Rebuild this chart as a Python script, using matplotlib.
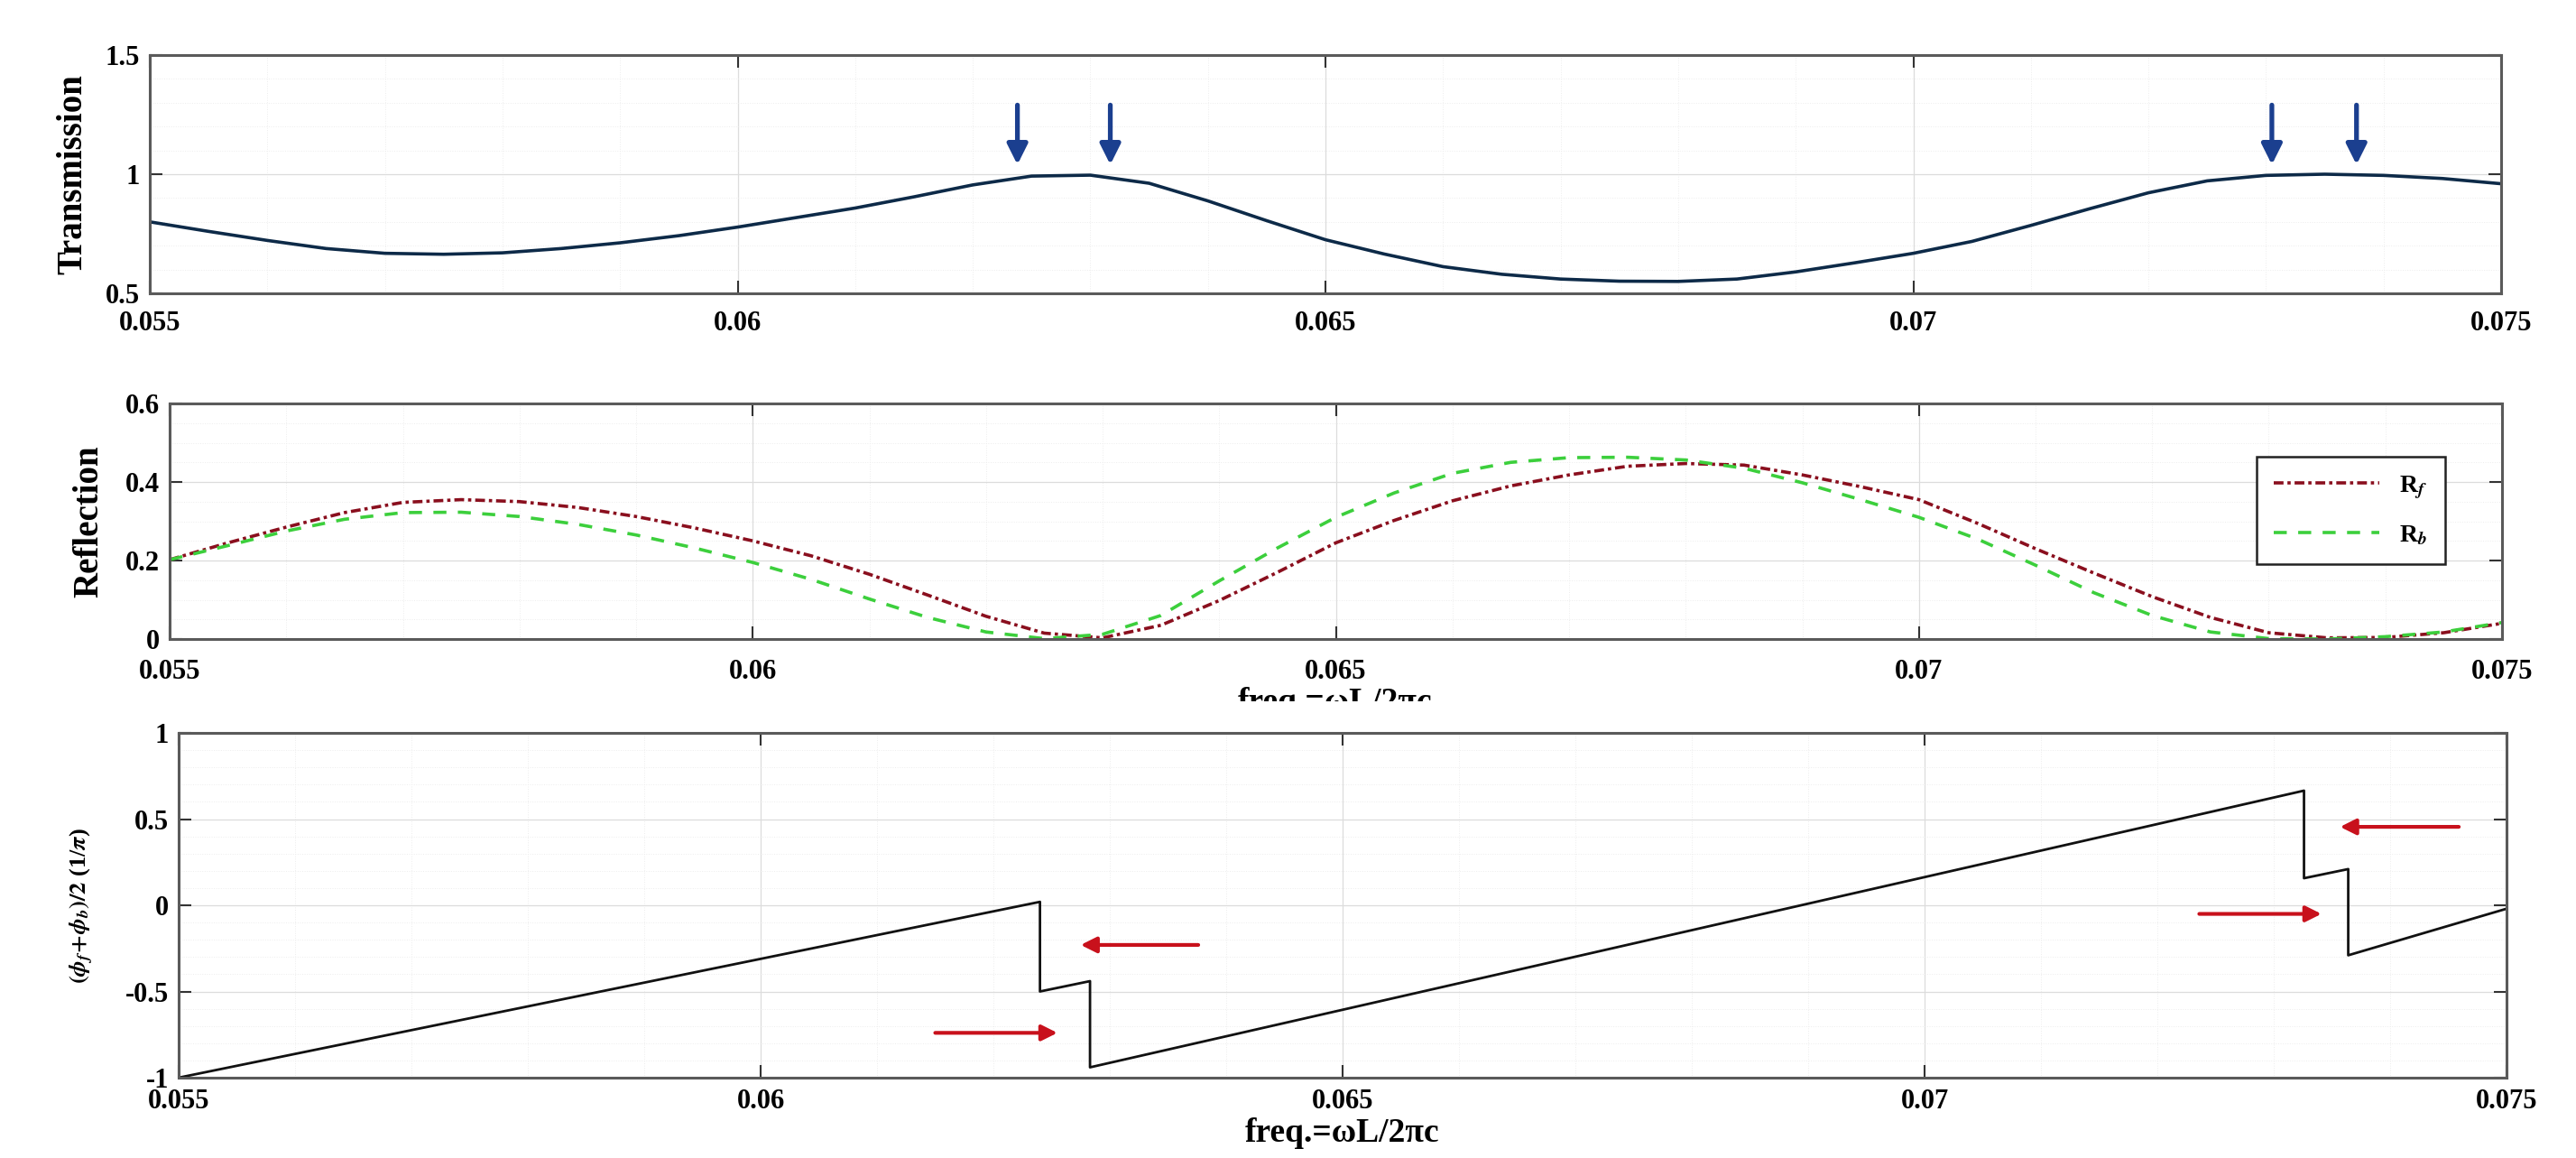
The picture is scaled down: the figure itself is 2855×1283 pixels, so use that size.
import matplotlib
matplotlib.use("Agg")
import matplotlib.pyplot as plt
from matplotlib.ticker import FixedLocator, MultipleLocator
from matplotlib.patches import Rectangle

# ---------------------------------------------------------------
# data
# ---------------------------------------------------------------
freq = [0.0550, 0.0555, 0.0560, 0.0565, 0.0570, 0.0575, 0.0580, 0.0585, 0.0590, 0.0595,
        0.0600, 0.0605, 0.0610, 0.0615, 0.0620, 0.0625, 0.0630, 0.0635, 0.0640, 0.0645,
        0.0650, 0.0655, 0.0660, 0.0665, 0.0670, 0.0675, 0.0680, 0.0685, 0.0690, 0.0695,
        0.0700, 0.0705, 0.0710, 0.0715, 0.0720, 0.0725, 0.0730, 0.0735, 0.0740, 0.0745,
        0.0750]

transmission = [0.800, 0.760, 0.722, 0.688, 0.668, 0.664, 0.670, 0.688, 0.712, 0.742,
                0.778, 0.818, 0.858, 0.905, 0.955, 0.992, 0.996, 0.962, 0.888, 0.805,
                0.725, 0.665, 0.612, 0.580, 0.560, 0.551, 0.550, 0.560, 0.590, 0.628,
                0.668, 0.718, 0.785, 0.855, 0.922, 0.972, 0.995, 1.000, 0.995, 0.982,
                0.960]

refl_f = [0.202, 0.245, 0.285, 0.322, 0.348, 0.355, 0.350, 0.335, 0.312, 0.283,
          0.250, 0.212, 0.165, 0.112, 0.058, 0.015, 0.003, 0.035, 0.098, 0.170,
          0.245, 0.302, 0.352, 0.390, 0.418, 0.440, 0.447, 0.443, 0.418, 0.388,
          0.355, 0.295, 0.230, 0.168, 0.108, 0.055, 0.016, 0.003, 0.004, 0.016,
          0.040]

refl_b = [0.202, 0.238, 0.275, 0.305, 0.322, 0.323, 0.312, 0.292, 0.265, 0.232,
          0.195, 0.152, 0.102, 0.055, 0.018, 0.001, 0.012, 0.060, 0.148, 0.232,
          0.310, 0.372, 0.422, 0.450, 0.462, 0.463, 0.456, 0.435, 0.398, 0.355,
          0.310, 0.255, 0.188, 0.118, 0.060, 0.018, 0.001, 0.000, 0.006, 0.018,
          0.042]

phase_freq = [0.0550, 0.0550, 0.06240, 0.06240, 0.06283, 0.06283,
              0.07326, 0.07326, 0.07364, 0.07364, 0.0750]
phase_val = [-0.35, -1.00, 0.02, -0.50, -0.44, -0.94,
             0.665, 0.157, 0.21, -0.29, -0.02]

# blue markers on the transmission peaks
peak_marks = [0.06238, 0.06317, 0.07305, 0.07377]
# red arrows on the phase panel: (tail x, head x, y)
phase_arrows = [(0.06376, 0.06275, -0.23), (0.06150, 0.06255, -0.74),
                (0.07459, 0.07357, 0.455), (0.07236, 0.07341, -0.05)]

x_ticks = [0.055, 0.06, 0.065, 0.07, 0.075]
x_ticklabels = ["0.055", "0.06", "0.065", "0.07", "0.075"]
xlabel = "freq.=\u03c9L/2\u03c0c"

# ---------------------------------------------------------------
# style
# ---------------------------------------------------------------
plt.rcParams["font.family"] = ["Liberation Serif", "DejaVu Serif"]
plt.rcParams["font.weight"] = "bold"
plt.rcParams["mathtext.fontset"] = "stix"

W, H = 2855, 1283
fig = plt.figure(figsize=(W / 100, H / 100), dpi=100)


def box(left, top, right, bottom):
    return [left / W, 1 - bottom / H, (right - left) / W, (bottom - top) / H]


def style_axes(ax, yticks, ylabels, yminor, xpad):
    ax.set_xlim(0.055, 0.075)
    ax.xaxis.set_major_locator(FixedLocator(x_ticks))
    ax.set_xticklabels(x_ticklabels)
    ax.xaxis.set_minor_locator(MultipleLocator(0.001))
    ax.yaxis.set_major_locator(FixedLocator(yticks))
    ax.set_yticklabels(ylabels)
    ax.yaxis.set_minor_locator(MultipleLocator(yminor))
    ax.tick_params(which="major", direction="in", top=True, right=True,
                   length=10, width=1.5, labelsize=22, color="#333333")
    ax.tick_params(which="minor", direction="in", length=0)
    ax.tick_params(axis="x", pad=xpad)
    ax.tick_params(axis="y", pad=8)
    ax.grid(True, which="major", color="#dcdcdc", lw=0.9)
    ax.grid(True, which="minor", color="#ededed", lw=0.7, ls=":")
    ax.set_axisbelow(True)
    for s in ax.spines.values():
        s.set_color("#5a5a5a")
        s.set_linewidth(2.2)
    for lab in ax.get_xticklabels() + ax.get_yticklabels():
        lab.set_fontweight("bold")


# ---------------------------------------------------------------
# 1. Transmission
# ---------------------------------------------------------------
ax1 = fig.add_axes(box(166, 61, 2772, 325))
ax1.plot(freq, transmission, color="#0d2a48", lw=2.6)
ax1.set_ylim(0.5, 1.5)
style_axes(ax1, [0.5, 1, 1.5], ["0.5", "1", "1.5"], 0.1, 14)
ax1.set_ylabel("Transmission", fontsize=28, fontweight="bold")
ax1.yaxis.set_label_coords(-0.0255, 0.5)
for xm in peak_marks:
    ax1.annotate("", xy=(xm, 1.04), xytext=(xm, 1.29),
                 arrowprops=dict(arrowstyle="-|>", color="#1b3f8f", lw=3.8,
                                 mutation_scale=34, shrinkA=0, shrinkB=0))

# ---------------------------------------------------------------
# 2. Reflection
# ---------------------------------------------------------------
ax2 = fig.add_axes(box(188, 447, 2773, 708))
ax2.plot(freq, refl_f, color="#8a0f1e", lw=2.6, dashes=[3.0, 1.2, 1.0, 1.2],
         label=r"R$_f$")
ax2.plot(freq, refl_b, color="#3ccf3c", lw=2.6, dashes=[4, 3.5], label=r"R$_b$")
ax2.set_ylim(0, 0.6)
style_axes(ax2, [0, 0.2, 0.4, 0.6], ["0", "0.2", "0.4", "0.6"], 0.05, 16)
ax2.set_ylabel("Reflection", fontsize=28, fontweight="bold")
ax2.yaxis.set_label_coords(-0.0275, 0.5)
leg = ax2.legend(loc="upper right", bbox_to_anchor=(0.981, 0.828), fontsize=20,
                 handlelength=4.2, labelspacing=0.9, borderpad=0.7,
                 fancybox=False, framealpha=1, edgecolor="#222222")
leg.get_frame().set_linewidth(1.8)
for t in leg.get_texts():
    t.set_fontweight("bold")

# x label of the middle panel, cut off in the reference
fig.text(1480 / W, 1 - 761 / H, xlabel, ha="center", va="top", fontsize=27,
         fontweight="bold")
fig.patches.append(Rectangle((0, 1 - 798 / H), 1, 21 / H, transform=fig.transFigure,
                             facecolor="white", edgecolor="none", zorder=5))

# ---------------------------------------------------------------
# 3. Phase
# ---------------------------------------------------------------
ax3 = fig.add_axes(box(198, 812, 2778, 1194))
ax3.plot(phase_freq, phase_val, color="#111111", lw=2.0)
ax3.set_ylim(-1, 1)
style_axes(ax3, [-1, -0.5, 0, 0.5, 1], ["-1", "-0.5", "0", "0.5", "1"], 0.1, 9)
ax3.set_ylabel(r"$(\phi_f\!+\!\phi_b)/2$ (1/$\pi$)", fontsize=19, fontweight="bold")
ax3.yaxis.set_label_coords(-0.0355, 0.5)
ax3.set_xlabel(xlabel, fontsize=27, fontweight="bold", labelpad=2)
for x0, x1, yv in phase_arrows:
    ax3.annotate("", xy=(x1, yv), xytext=(x0, yv),
                 arrowprops=dict(arrowstyle="-|>", color="#c8111c", lw=3,
                                 mutation_scale=26, shrinkA=0, shrinkB=0))

fig.savefig("out.png", dpi=100, facecolor="white")
